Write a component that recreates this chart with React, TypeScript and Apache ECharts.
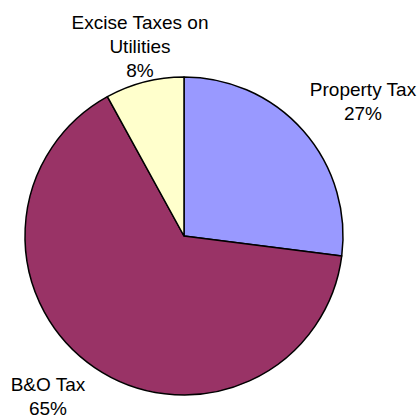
import React, { useEffect, useRef } from "react";
import * as echarts from "echarts";

const categories = ["Property Tax", "B&O Tax", "Excise Taxes on Utilities"];
const labelTexts = ["Property Tax", "B&O Tax", "Excise Taxes on\nUtilities"];
const values = [27, 65, 8];
const colors = ["#9999FF", "#993366", "#FFFFCC"];

export default function App() {
  const ref = useRef<HTMLDivElement>(null);
  useEffect(() => {
    if (!ref.current) return;
    const chart = echarts.init(ref.current, undefined, { renderer: "svg" });
    const labelPos = [
      { x: 363, y: 101 },
      { x: 48, y: 396 },
      { x: 140, y: 46 },
    ];
    chart.setOption({
      animation: false,
      backgroundColor: "#FFFFFF",
      series: [
        {
          type: "pie",
          center: [184, 236],
          radius: 159,
          startAngle: 90,
          clockwise: true,
          avoidLabelOverlap: false,
          data: categories.map((c, i) => ({
            name: c,
            value: values[i],
            itemStyle: { color: colors[i] },
            label: { formatter: labelTexts[i] + "\n{d}%" },
          })),
          itemStyle: { borderColor: "#000000", borderWidth: 1.5 },
          label: {
            show: true,
            position: "outside",
            color: "#000000",
            fontFamily: "Liberation Sans, Arial, sans-serif",
            fontSize: 19,
            lineHeight: 24,
            align: "center",
          },
          labelLine: { show: false },
          labelLayout: (params: any) => ({
            x: labelPos[params.dataIndex].x,
            y: labelPos[params.dataIndex].y,
            align: "center",
            verticalAlign: "middle",
          }),
          emphasis: { disabled: true },
        },
      ],
    });
    return () => chart.dispose();
  }, []);
  return (
    <div
      ref={ref}
      style={{ position: "fixed", left: 0, top: 0, width: 419, height: 417 }}
    />
  );
}
